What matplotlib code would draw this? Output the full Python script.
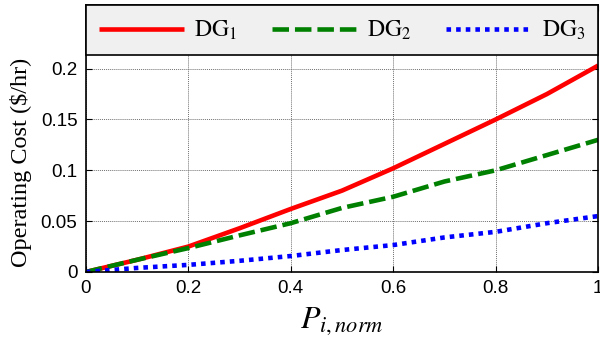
import matplotlib
matplotlib.use("Agg")
import matplotlib.pyplot as plt

x = [0.0, 0.1, 0.2, 0.3, 0.4, 0.5, 0.6, 0.7, 0.8, 0.9, 1.0]
dg1 = [0.0, 0.012, 0.025, 0.043, 0.062, 0.080, 0.102, 0.126, 0.150, 0.175, 0.203]
dg2 = [0.0, 0.012, 0.0235, 0.036, 0.048, 0.063, 0.074, 0.089, 0.100, 0.115, 0.130]
dg3 = [0.0, 0.004, 0.007, 0.011, 0.0157, 0.0216, 0.0265, 0.034, 0.0395, 0.048, 0.055]
labels = [r"$\mathrm{DG}_1$", r"$\mathrm{DG}_2$", r"$\mathrm{DG}_3$"]
xticks = [0, 0.2, 0.4, 0.6, 0.8, 1]
xticklabels = ["0", "0.2", "0.4", "0.6", "0.8", "1"]
yticks = [0, 0.05, 0.1, 0.15, 0.2]
yticklabels = ["0", "0.05", "0.1", "0.15", "0.2"]

plt.rcParams['mathtext.fontset'] = 'stix'
serif = ['Liberation Serif', 'DejaVu Serif']
sans = ['Liberation Sans', 'DejaVu Sans']

fig = plt.figure(figsize=(6.0, 3.43), dpi=100)
ax = fig.add_axes([0.143, 0.207, 0.854, 0.778])

ax.plot(x, dg1, color='#ff0000', lw=3.3, solid_capstyle='butt', label=labels[0])
ax.plot(x, dg2, color='#008000', lw=3.3, dashes=(3.6, 1.3), dash_capstyle='butt', label=labels[1])
ax.plot(x, dg3, color='#0000ff', lw=3.3, dashes=(1.0, 1.1), dash_capstyle='butt', label=labels[2])

ax.set_xlim(0, 1)
ax.set_ylim(0, 0.2624)
ax.set_xticks(xticks)
ax.set_xticklabels(xticklabels, fontfamily=sans, fontsize=13.5)
ax.set_yticks(yticks)
ax.set_yticklabels(yticklabels, fontfamily=sans, fontsize=13.5)
ax.tick_params(direction='in', top=True, right=True, length=4, width=0.8, pad=6)
ax.grid(True, color='#707070', linestyle=(0, (1, 1)), linewidth=0.7)
for s in ax.spines.values():
    s.set_linewidth(1.2)

ax.set_ylabel("Operating Cost ($/hr)", fontfamily=serif, fontsize=17.5)
ax.yaxis.set_label_coords(-0.105, 0.41)
ax.set_xlabel("$P_{i,norm}$", fontsize=23, labelpad=6)

leg = ax.legend(loc='upper left', bbox_to_anchor=(0, 0, 1, 1), mode='expand',
                ncol=3, borderaxespad=0, fancybox=False, framealpha=1,
                facecolor='#f0f0f0', edgecolor='black', handlelength=3.6,
                handletextpad=0.45, columnspacing=1.3,
                prop={'size': 17}, borderpad=0.55)
leg.get_frame().set_linewidth(1.2)

fig.savefig("out.png", dpi=100)
